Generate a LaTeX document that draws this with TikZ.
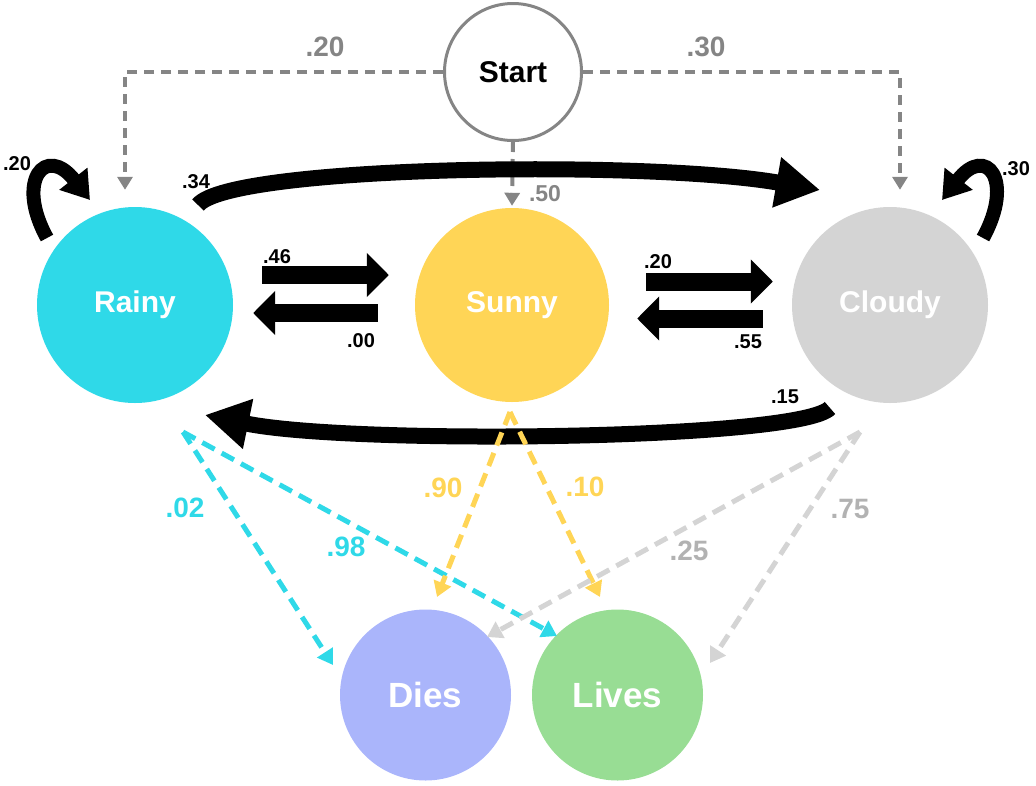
\documentclass[tikz,border=0pt]{standalone}
\usepackage{fontspec}
\setmainfont{Liberation Sans}
\usepackage{tikz}
\usetikzlibrary{arrows.meta}
\usetikzlibrary{calc}
\definecolor{palette_cyan}{HTML}{2FD9E8}
\definecolor{palette_jaune}{HTML}{FFD556}
\definecolor{palette_nuage}{HTML}{D4D4D4}
\definecolor{palette_violet}{HTML}{AAB5FB}
\definecolor{palette_vert}{HTML}{98DD94}
\definecolor{palette_gris}{HTML}{858585}
\definecolor{palette_grisclair}{HTML}{B2B2B2}

\begin{document}
\begin{tikzpicture}[x=1pt,y=-1pt,
    weather/.style={circle,inner sep=0pt,text=white,font=\fontsize{30}{36}\selectfont\bfseries},
    blockarrow/.style={line width=18pt,-{Triangle[length=22pt,width=43pt]}},
    bigcurve/.style={line width=16pt,-{Triangle[length=44pt,width=48pt]}},
    selfloop/.style={line width=14pt,-{Triangle[length=27pt,width=34pt]}},
    startline/.style={color=palette_gris,line width=4pt,dash pattern=on 10pt off 7pt,-{Triangle[length=13pt,width=15pt]}},
    emitline/.style={line width=5pt,dash pattern=on 14pt off 8pt,-{Triangle[length=15pt,width=18pt]}},
    labsmall/.style={font=\fontsize{20}{24}\selectfont\bfseries},
    labbig/.style={font=\fontsize{28}{32}\selectfont\bfseries}]

    \useasboundingbox (0,0) rectangle (1036,785);

    % states
    \node[weather,fill=palette_cyan,minimum size=196pt] (rainy) at (135,305) {Rainy};
    \node[weather,fill=palette_jaune,minimum size=194pt] (sunny) at (512,305) {Sunny};
    \node[weather,fill=palette_nuage,minimum size=196pt] (cloudy) at (890,305) {Cloudy};
    \node[circle,draw=palette_gris,line width=3pt,minimum size=137pt,inner sep=0pt,font=\fontsize{30}{36}\selectfont\bfseries] (start) at (513,72) {Start};
    \node[weather,fill=palette_violet,minimum size=171pt,font=\fontsize{35}{40}\selectfont\bfseries] (dies) at (425.5,695) {Dies};
    \node[weather,fill=palette_vert,minimum size=171pt,font=\fontsize{35}{40}\selectfont\bfseries] (lives) at (617.5,695) {Lives};

    % start probabilities
    \draw[startline] (start.west) -| ($(rainy.north)+(-10,-17)$);
    \draw[startline] (start.east) -| ($(cloudy.north)+(10,-17)$);
    \draw[startline] (start.south) -- ($(sunny.north)+(0,-2)$);
    \node[labbig,color=palette_gris] (p_sr) at (325,47) {.20};
    \node[labbig,color=palette_gris] (p_sc) at (706,47) {.30};
    \node[font=\fontsize{23}{27}\selectfont\bfseries,color=palette_gris] (p_ss) at (545,194) {.50};

    % transitions
    \draw[blockarrow] ($(rainy.east)+(29,-30)$) -- ($(sunny.west)+(-26,-30)$);
    \draw[blockarrow] ($(sunny.west)+(-37,8)$) -- ($(rainy.east)+(20,8)$);
    \draw[blockarrow] ($(sunny.east)+(37,-23.5)$) -- ($(cloudy.west)+(-19,-23.5)$);
    \draw[blockarrow] ($(cloudy.west)+(-29,13.5)$) -- ($(sunny.east)+(28,13.5)$);
    \node[labsmall] (p_rs) at (277,257) {.46};
    \node[labsmall] (p_sr2) at (361,341) {.00};
    \node[labsmall] (p_sc2) at (658,262) {.20};
    \node[labsmall] (p_cs) at (748,342) {.55};

    \draw[bigcurve] ($(rainy)+(63,-100)$) .. controls +(32,-40) and +(-170,-30) .. ($(cloudy)+(-70,-115)$);
    \draw[bigcurve] ($(cloudy)+(-60,103)$) .. controls +(-30,32) and +(145,30) .. ($(rainy)+(70,110)$);
    \node[labsmall] (p_rc) at (196,182) {.34};
    \node[labsmall] (p_cr) at (785,397) {.15};

    \draw[selfloop] ($(rainy)+(-88,-67)$) .. controls +(-32,-58) and +(-44,-56) .. ($(rainy)+(-45,-105)$);
    \draw[selfloop] ($(cloudy)+(93,-67)$) .. controls +(32,-58) and +(44,-56) .. ($(cloudy)+(52,-105)$);
    \node[labsmall] (p_rr) at (17,164) {.20};
    \node[labsmall] (p_cc) at (1016,169) {.30};

    % emissions
    \draw[emitline,color=palette_cyan] ($(rainy)+(48,127)$) -- ($(dies)+(-92.5,-30)$);
    \draw[emitline,color=palette_cyan] ($(rainy)+(48,127)$) -- ($(lives)+(-60.5,-59)$);
    \draw[emitline,color=palette_jaune] ($(sunny)+(-2,107)$) -- ($(dies)+(11.5,-98)$);
    \draw[emitline,color=palette_jaune] ($(sunny)+(-2,107)$) -- ($(lives)+(-17.5,-98)$);
    \draw[emitline,color=palette_nuage] ($(cloudy)+(-30,127)$) -- ($(dies)+(61.5,-58)$);
    \draw[emitline,color=palette_nuage] ($(cloudy)+(-30,127)$) -- ($(lives)+(92.5,-32)$);
    \node[labbig,color=palette_cyan] (e_rd) at (185,508) {.02};
    \node[labbig,color=palette_cyan] (e_rl) at (346,547) {.98};
    \node[labbig,color=palette_jaune] (e_sd) at (443,488) {.90};
    \node[labbig,color=palette_jaune] (e_sl) at (585,487) {.10};
    \node[labbig,color=palette_grisclair] (e_cd) at (689,551) {.25};
    \node[labbig,color=palette_grisclair] (e_cl) at (850,509) {.75};

\end{tikzpicture}
\end{document}
